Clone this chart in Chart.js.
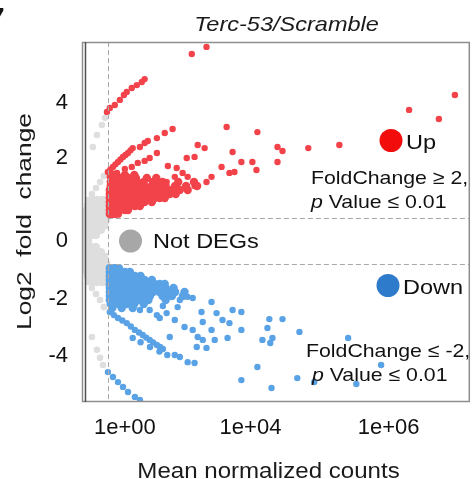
<!DOCTYPE html>
<html><head><meta charset="utf-8">
<script src="https://cdn.jsdelivr.net/npm/chart.js@4.4.0/dist/chart.umd.min.js"></script>
<style>html,body{margin:0;padding:0;background:#fff;overflow:hidden}</style>
</head><body>
<canvas id="c" width="474" height="479" style="display:block;width:474px;height:479px"></canvas>
<script>
// ---------- texts & ticks ----------
const chartTitle = 'Terc-53/Scramble';
const xAxisTitle = 'Mean normalized counts';
const yAxisTitle = 'Log2  fold  change';
const xTickValues = [0, 4, 8.4];
const xTickLabels = ['1e+00', '1e+04', '1e+06'];
const yTickValues = [-4.05, -2.05, 0, 2.91, 4.86];
const yTickLabels = ['-4', '-2', '0', '2', '4'];
const xRange = [-1.365, 10.984];
const yRange = [-5.649, 6.982];
const countCutoff = -0.54;   // vertical dashed line
const foldCutoff = 0.82;     // horizontal dashed lines (+/-)

// ---------- data (x = log10 mean count in axis units, y = log2 fold change) ----------
// dense cores given as rows: [y, [x...]]
const upCoreRows = [
  [0.95, [-0.48,-0.35,-0.22]],
  [1.09, [-0.48,-0.32,-0.16,0,0.1]],
  [1.23, [-0.48,-0.32,-0.16,0,0.16,0.32,0.48]],
  [1.37, [-0.48,-0.32,-0.16,0,0.16,0.32,0.48,0.63,0.86]],
  [1.51, [-0.48,-0.32,-0.16,0,0.16,0.32,0.48,0.63,0.79,0.95,1.11,1.27]],
  [1.65, [-0.48,-0.32,-0.16,0,0.16,0.32,0.48,0.63,0.79,0.95,1.11,1.27,1.43,1.62]],
  [1.79, [-0.48,-0.32,-0.16,0,0.16,0.32,0.48,0.63,0.79,0.95,1.11,1.3,1.5,1.75,2.0]],
  [1.93, [-0.45,-0.28,-0.1,0.08,0.25,0.45,0.62,0.85,1.05,1.3,1.6,1.95,2.3]],
  [2.07, [-0.45,-0.25,-0.05,0.15,0.4,0.6,0.9,1.2,1.7,2.2]],
  [2.21, [-0.4,-0.15,0.1,0.35,0.7,1.0]],
  [2.32, [-0.35,0.0,0.3]]
];
const upScatter = [
  [-0.57,4.53],[-0.48,4.67],[-0.32,4.77],[-0.16,4.95],[-0.03,5.12],[0.06,5.23],[0.22,5.37],[0.38,5.47],[0.54,5.58],[0.63,5.68],
  [2.13,6.56],[2.6,6.81],
  [-0.54,2.42],[-0.46,2.51],[-0.38,2.6],[-0.3,2.69],[-0.22,2.77],[-0.14,2.86],[-0.06,2.95],[0.02,3.02],[0.1,3.09],[0.18,3.18],[0.25,3.26],
  [0.48,3.3],[0.63,3.44],[0.73,3.51],[1.02,3.61],[1.27,3.79],[1.52,3.93],
  [-0.48,2.25],[-0.25,2.39],[0,2.53],[0.22,2.6],[0.41,2.74],[0.63,2.81],[0.79,2.91],
  [1.02,3.09],[1.37,2.63],[1.65,2.56],[1.97,2.91],[2.22,2.95],[2.32,3.37],[2.54,3.26],[3.24,4.0],[3.43,3.12],[3.71,2.77],
  [4.06,2.77],[3.08,2.6],[3.33,2.39],[3.49,2.42],[2.76,2.25],[2.6,2.07],[2.22,1.93],[2.0,2.25],[1.84,2.39],[1.59,2.25],
  [1.33,2.07],[1.11,2.04],[0.89,1.89],[1.97,1.89],[4.22,3.82],[4.86,3.3],[5.02,3.16],[4.19,2.49],[4.86,2.77],[5.84,3.26],
  [6.83,3.37],[9.05,4.6],[10.0,4.28],[10.51,5.12]
];
const downCoreRows = [
  [-0.95, [-0.48,-0.32,-0.19]],
  [-1.09, [-0.48,-0.32,-0.16,0,0.16]],
  [-1.23, [-0.48,-0.32,-0.16,0,0.16,0.32,0.5]],
  [-1.37, [-0.48,-0.32,-0.16,0,0.16,0.32,0.48,0.63,0.86]],
  [-1.51, [-0.48,-0.32,-0.16,0,0.16,0.32,0.48,0.63,0.79,0.95,1.11,1.27]],
  [-1.65, [-0.48,-0.32,-0.16,0,0.16,0.32,0.48,0.63,0.79,0.95,1.11,1.3,1.55]],
  [-1.79, [-0.48,-0.32,-0.16,0,0.16,0.32,0.5,0.7,0.9,1.1,1.35,1.6,1.9]],
  [-1.93, [-0.48,-0.3,-0.1,0.1,0.3,0.55,0.8,1.2,1.5,1.85]],
  [-2.07, [-0.48,-0.28,-0.05,0.2,0.45,0.75,1.3]],
  [-2.21, [-0.45,-0.2,0.05,0.3,0.6]],
  [-2.35, [-0.4,-0.1,0.25]]
];
const downScatter = [
  [-0.48,-2.49],[-0.35,-2.6],[-0.22,-2.7],[-0.08,-2.79],[0.06,-2.88],[0.19,-3.0],[0.32,-3.12],[0.45,-3.21],[0.57,-3.3],[0.68,-3.39],
  [0.79,-3.47],[0.9,-3.56],[1.02,-3.65],[1.12,-3.72],[1.21,-3.79],
  [0.25,-3.4],[0.5,-3.55],[0.8,-3.72],[1.1,-3.88],[1.35,-4.0],
  [-0.54,-4.6],[-0.38,-4.77],[-0.22,-4.95],[-0.06,-5.12],[0.1,-5.3],[0.32,-5.47],[0.48,-5.58],
  [1.59,-4.0],[1.75,-4.07],[2.0,-4.25],[2.22,-4.28],[2.29,-3.72],[2.6,-3.75],[2.32,-3.37],[2.16,-3.12],[1.9,-3.02],[1.59,-2.77],
  [1.43,-3.37],[1.11,-2.7],[1.02,-2.6],[1.33,-2.53],[2.48,-2.84],[2.76,-3.12],[2.86,-3.47],[2.92,-2.53],[3.11,-2.77],[3.33,-2.88],
  [3.43,-2.42],[3.71,-2.49],[3.71,-3.12],[3.27,-3.4],[2.44,-2.49],[2.76,-2.14],[2.16,-2.0],[3.71,-4.88],[4.22,-4.42],[2.48,-3.47],
  [4.6,-2.74],[5.02,-2.74],[4.54,-3.05],[5.56,-3.19],[4.38,-3.47],[4.7,-3.4],[4.63,-3.58],[4.67,-5.16],[5.49,-4.81],[6.03,-4.95],
  [7.11,-3.4],[8.16,-4.35],[7.37,-5.02],
  [1.43,-1.93],[1.75,-2.07],[2.0,-1.96],[1.68,-2.32],[1.21,-2.28],[0.79,-2.42],[0.48,-2.42]
];
const notDegRows = [
  [1.44, [-1.05,-0.89,-0.73,-0.6]],
  [1.26, [-1.17,-1.02,-0.86,-0.7,-0.57]],
  [1.09, [-1.21,-1.05,-0.89,-0.73,-0.57]],
  [0.91, [-1.24,-1.08,-0.92,-0.76,-0.6]],
  [0.74, [-1.24,-1.08,-0.92,-0.76,-0.6]],
  [0.56, [-1.24,-1.08,-0.92,-0.76,-0.6]],
  [0.39, [-1.24,-1.08,-0.92,-0.76]],
  [0.21, [-1.24,-1.08,-0.92]],
  [0.0, [-1.24,-1.17]],
  [-0.21, [-1.24,-1.08,-0.92]],
  [-0.39, [-1.24,-1.08,-0.92,-0.76]],
  [-0.56, [-1.24,-1.08,-0.92,-0.76,-0.6]],
  [-0.74, [-1.24,-1.08,-0.92,-0.76,-0.6]],
  [-0.91, [-1.24,-1.08,-0.92,-0.76,-0.6]],
  [-1.09, [-1.21,-1.05,-0.89,-0.73,-0.57]],
  [-1.26, [-1.17,-1.02,-0.86,-0.7,-0.57]],
  [-1.44, [-1.05,-0.89,-0.73,-0.6]]
];
const notDegScatter = [
  [-0.63,4.32],[-0.73,4.07],[-0.89,3.72],[-1.02,3.3],
  [-1.05,-3.37],[-0.89,-3.82],[-0.79,-4.1],[-0.7,-4.35],
  [-0.67,2.28],[-0.79,2.07],[-0.92,1.86],[-1.05,1.65],[-1.17,1.44],
  [-0.67,-2.32],[-0.79,-2.07],[-0.92,-1.86],[-1.05,-1.65],[-1.17,-1.44]
];

// ---------- build point tables ----------
const fromRows = rows => rows.flatMap(([y, xs]) => xs.map(x => ({x, y})));
const fromPairs = pairs => pairs.map(([x, y]) => ({x, y}));

const FONT = '"Liberation Sans", Arial, Helvetica, sans-serif';
const SX = 1.12;
const RED = '#F2434B', BLUE = '#5AA2E6', GREY = '#DEDEDE';

function drawText(ctx, s, x, y, font, align, sx, color) {
  ctx.save();
  ctx.font = font;
  ctx.fillStyle = color || '#111';
  ctx.textBaseline = 'alphabetic';
  ctx.textAlign = 'left';
  const w = ctx.measureText(s).width * sx;
  const x0 = align === 'center' ? x - w / 2 : (align === 'right' ? x - w : x);
  ctx.translate(x0, y);
  ctx.scale(sx, 1);
  ctx.fillText(s, 0, 0);
  ctx.restore();
  return w;
}
function dot(ctx, x, y, r, color) {
  ctx.beginPath(); ctx.arc(x, y, r, 0, Math.PI * 2); ctx.fillStyle = color; ctx.fill();
}

const deco = {
  id: 'deco',
  afterDatasetsDraw(chart) {
    const ctx = chart.ctx, a = chart.chartArea, xs = chart.scales.x, ys = chart.scales.y;
    const xc = xs.getPixelForValue(countCutoff);
    const yUp = ys.getPixelForValue(foldCutoff), yDn = ys.getPixelForValue(-foldCutoff);
    ctx.save();
    const r = 10;
    ctx.beginPath();
    ctx.moveTo(a.right, yUp); ctx.lineTo(xc + r, yUp);
    ctx.quadraticCurveTo(xc, yUp, xc, yUp + r);
    ctx.lineTo(xc, yDn - r);
    ctx.quadraticCurveTo(xc, yDn, xc + r, yDn);
    ctx.lineTo(a.right, yDn); ctx.closePath();
    ctx.fillStyle = '#fff'; ctx.fill();
    ctx.strokeStyle = '#a9a9a9'; ctx.lineWidth = 1; ctx.setLineDash([5, 3]);
    ctx.beginPath();
    ctx.moveTo(Math.round(xc) + 0.5, a.top); ctx.lineTo(Math.round(xc) + 0.5, a.bottom);
    ctx.moveTo(xc, Math.round(yUp) + 0.5); ctx.lineTo(a.right, Math.round(yUp) + 0.5);
    ctx.moveTo(xc, Math.round(yDn) + 0.5); ctx.lineTo(a.right, Math.round(yDn) + 0.5);
    ctx.stroke();
    ctx.setLineDash([]);
    ctx.strokeStyle = '#8e8e8e'; ctx.lineWidth = 1.5;
    ctx.strokeRect(a.left + 0.5, a.top + 0.5, a.right - a.left - 1, a.bottom - a.top - 1);
    ctx.strokeStyle = '#505050'; ctx.lineWidth = 1.5;
    ctx.beginPath(); ctx.moveTo(a.left + 3.5, a.top); ctx.lineTo(a.left + 3.5, a.bottom); ctx.stroke();
    dot(ctx, 391, 140.5, 11.5, '#F30C0C');
    drawText(ctx, 'Up', 406, 149, '21px ' + FONT, 'left', SX);
    drawText(ctx, 'FoldChange \u2265 2,', 311, 184, '19px ' + FONT, 'left', SX);
    let w = drawText(ctx, 'p', 311, 208, 'italic 19px ' + FONT, 'left', SX);
    drawText(ctx, ' Value \u2264 0.01', 311 + w, 208, '19px ' + FONT, 'left', SX);
    dot(ctx, 130.5, 241, 11.5, '#A7A7A7');
    drawText(ctx, 'Not DEGs', 153, 248, '21px ' + FONT, 'left', SX);
    dot(ctx, 388, 285.5, 11.5, '#2F7BCB');
    drawText(ctx, 'Down', 403, 294, '21px ' + FONT, 'left', SX);
    drawText(ctx, 'FoldChange \u2264 -2,', 306, 357, '19px ' + FONT, 'left', SX);
    w = drawText(ctx, 'p', 312, 381, 'italic 19px ' + FONT, 'left', SX);
    drawText(ctx, ' Value \u2264 0.01', 312 + w, 381, '19px ' + FONT, 'left', SX);
    ctx.restore();
  },
  afterDraw(chart) {
    const ctx = chart.ctx;
    ctx.save();
    drawText(ctx, chartTitle, 286.5, 31, 'italic 21px ' + FONT, 'center', SX, '#1a1a1a');
    drawText(ctx, xAxisTitle, 268.5, 478, '21.5px ' + FONT, 'center', SX, '#1a1a1a');
    ctx.font = '21px ' + FONT;
    const m = ctx.measureText(yAxisTitle).width;
    ctx.translate(30.5, 221.5);
    ctx.rotate(-Math.PI / 2);
    drawText(ctx, yAxisTitle, 0, 0, '21px ' + FONT, 'center', 217 / m, '#1a1a1a');
    ctx.restore();
    ctx.save();
    drawText(ctx, '7', -9, 25, 'bold 24px ' + FONT, 'left', 1, '#111');
    ctx.restore();
  }
};

const pt = (label, data, r, color, order) => ({ label, data, pointRadius: r, pointBackgroundColor: color, pointBorderWidth: 0, order });

new Chart(document.getElementById('c'), {
  type: 'scatter',
  data: {
    datasets: [
      pt('Not DEGs', fromRows(notDegRows), 4.2, GREY, 6),
      pt('Not DEGs', fromPairs(notDegScatter), 3.3, GREY, 5),
      pt('Down', fromRows(downCoreRows), 4.2, BLUE, 4),
      pt('Down', fromPairs(downScatter), 3.2, BLUE, 3),
      pt('Up', fromRows(upCoreRows), 4.2, RED, 2),
      pt('Up', fromPairs(upScatter), 3.2, RED, 1)
    ]
  },
  options: {
    responsive: false, animation: false, devicePixelRatio: 1,
    layout: { padding: { left: 0, top: 42, right: 3, bottom: 0 } },
    plugins: { legend: { display: false }, tooltip: { enabled: false }, title: { display: false } },
    scales: {
      x: {
        type: 'linear', min: xRange[0], max: xRange[1],
        afterBuildTicks: s => { s.ticks = xTickValues.map(v => ({ value: v })); },
        afterFit: s => { s.height = 77; },
        ticks: { callback: (v, i) => xTickLabels[i], font: { family: FONT, size: 22 }, color: '#111', padding: 13, maxRotation: 0, autoSkip: false },
        grid: { display: false, drawTicks: false },
        border: { display: false }
      },
      y: {
        type: 'linear', min: yRange[0], max: yRange[1],
        afterBuildTicks: s => { s.ticks = yTickValues.map(v => ({ value: v })); },
        afterFit: s => { s.width = 82; },
        ticks: { callback: (v, i) => yTickLabels[i], font: { family: FONT, size: 22 }, color: '#111', padding: 14, autoSkip: false },
        grid: { display: false, drawTicks: false },
        border: { display: false }
      }
    }
  },
  plugins: [deco]
});
</script>
</body></html>
